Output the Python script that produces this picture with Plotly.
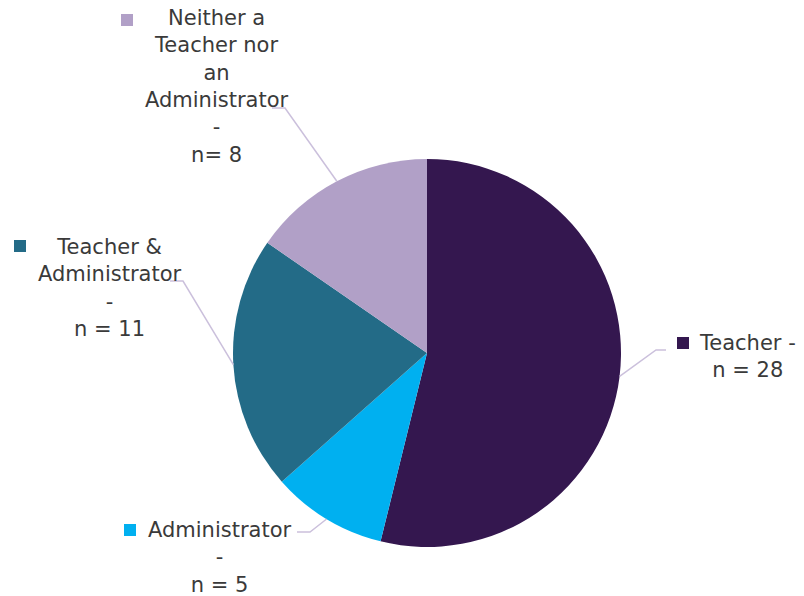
import math
import plotly.graph_objects as go

# ---- data ----
categories = ["Teacher", "Administrator", "Teacher & Administrator", "Neither a Teacher nor an Administrator"]
counts = [28, 5, 11, 8]
label_texts = [
    "Teacher -<br>n = 28",
    "Administrator<br>-<br>n = 5",
    "Teacher &<br>Administrator<br>-<br>n = 11",
    "Neither a<br>Teacher nor<br>an<br>Administrator<br>-<br>n= 8",
]
colors = ["#34174F", "#00B0F0", "#236B87", "#B1A0C7"]

# ---- layout / style (pixels) ----
W, H = 804, 596
CX, CY, R = 427, 353, 194
label_centers = [(747, 356), (220, 557), (110, 287.5), (217, 86.5)]
square_pos = [(683, 343), (130, 530), (20, 246), (127, 20)]
elbows = [((656, 350), (666, 350)), ((310, 532), (297, 532)),
          ((183, 281), (170, 281)), ((285, 108), (272, 108))]
LINE_COLOR = "#CBC0DC"
TEXT_COLOR = "#3A3A3A"
FONT = "DejaVu Sans, Verdana, sans-serif"


def px(x):
    return x / W


def py(y):
    return 1 - y / H


fig = go.Figure(go.Pie(
    labels=categories,
    values=counts,
    sort=False,
    direction="clockwise",
    rotation=0,
    marker=dict(colors=colors, line=dict(width=0)),
    textinfo="none",
    hoverinfo="label+value",
    domain=dict(x=[px(CX - R), px(CX + R)], y=[py(CY + R), py(CY - R)]),
))

shapes = []
annotations = []
total = sum(counts)
cum = 0
for i, v in enumerate(counts):
    mid = (cum + v / 2) / total * 2 * math.pi
    cum += v
    ex = CX + R * math.sin(mid)
    ey = CY - R * math.cos(mid)
    (bx, by), (hx, hy) = elbows[i]
    path = f"M {px(ex)} {py(ey)} L {px(bx)} {py(by)} L {px(hx)} {py(hy)}"
    shapes.append(dict(type="path", path=path, xref="paper", yref="paper",
                       line=dict(color=LINE_COLOR, width=1.5)))
    sx, sy = square_pos[i]
    shapes.append(dict(type="rect", xref="paper", yref="paper",
                       x0=px(sx - 6), x1=px(sx + 6), y0=py(sy + 6), y1=py(sy - 6),
                       fillcolor=colors[i], line=dict(width=0)))
    lx, ly = label_centers[i]
    annotations.append(dict(x=px(lx), y=py(ly), xref="paper", yref="paper",
                            text=label_texts[i], showarrow=False, align="center",
                            xanchor="center", yanchor="middle",
                            font=dict(family=FONT, size=21, color=TEXT_COLOR)))

fig.update_layout(
    width=W, height=H,
    margin=dict(l=0, r=0, t=0, b=0),
    paper_bgcolor="white",
    plot_bgcolor="white",
    showlegend=False,
    shapes=shapes,
    annotations=annotations,
)

fig.write_html("out.html")
